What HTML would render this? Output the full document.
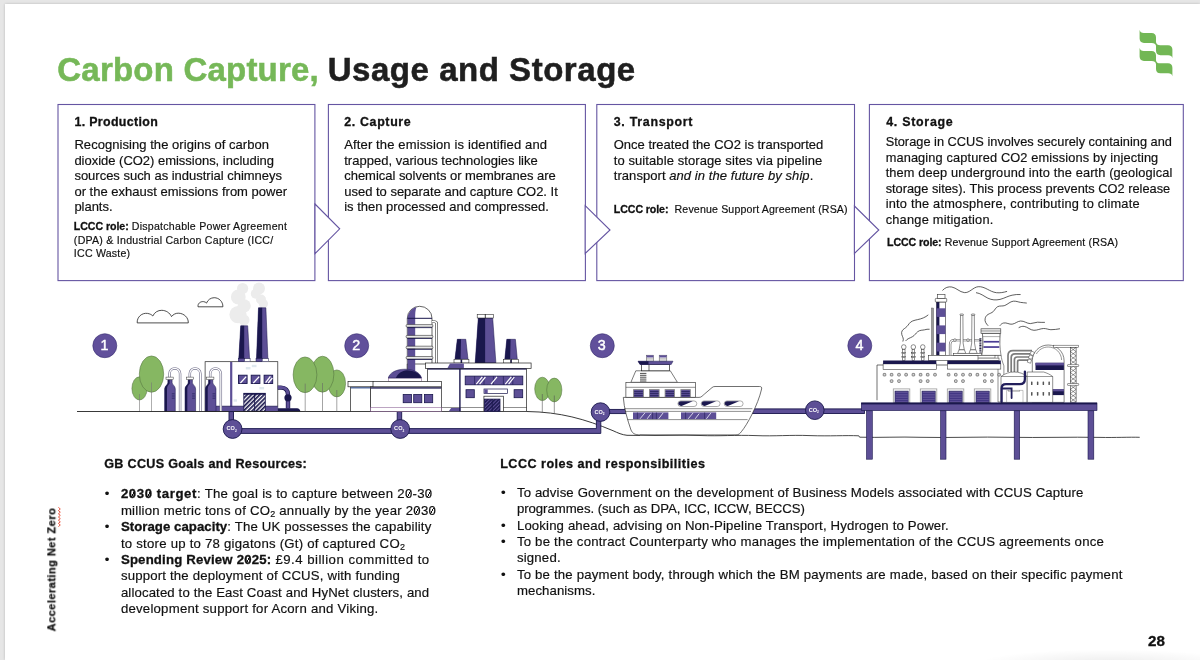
<!DOCTYPE html><html><head><meta charset="utf-8"><title>Carbon Capture, Usage and Storage</title><style>
html,body{margin:0;padding:0;overflow:hidden;}
body{width:1200px;height:660px;overflow:hidden;background:#e6e6e6;font-family:"Liberation Sans", sans-serif;color:#111;position:relative;}
.page{position:absolute;left:4.7px;top:3.6px;width:1195.3px;height:656.4px;background:#fff;box-shadow:0 0 2.5px rgba(0,0,0,.2);}
.shade{position:absolute;left:960px;top:646px;width:240px;height:14px;background:radial-gradient(ellipse 55% 100% at 62% 125%, rgba(0,0,0,.075), rgba(0,0,0,0) 100%);}
.txt{position:absolute;left:0;top:0;width:1200px;height:660px;will-change:transform;}
.t{position:absolute;white-space:nowrap;line-height:1.2;-webkit-text-stroke:0.18px #111;}
.t b{-webkit-text-stroke:0.3px #111;}
span.pb{display:inline-block;width:0;height:0;}
.z{background:linear-gradient(-62deg, transparent 44%, #111 44%, #111 56%, transparent 56%) no-repeat 50% 60% / 0.3em 0.48em;}
.t sub{font-size:.68em;vertical-align:baseline;position:relative;top:.22em;line-height:0;}
.box{position:absolute;border:1px solid #6a5fa9;box-sizing:border-box;background:#fff;}
svg{position:absolute;left:0;top:0;overflow:visible;will-change:transform;}
</style></head><body><div class="page"></div><div class="shade"></div>
<svg width="1200" height="660" viewBox="0 0 1200 660">
<g fill="#fff" stroke="#6555a2" stroke-width="1.1" stroke-linejoin="miter">
<rect x="58" y="104.5" width="256.9" height="176.1"/>
<rect x="328.4" y="104.5" width="257" height="176.1"/>
<rect x="596.8" y="104.5" width="257.7" height="176.1"/>
<rect x="869.4" y="104.5" width="313.9" height="176.1"/>
<path d="M315 204 L339.7 228.8 L315 253.6 Z"/>
<path d="M585.2 205.7 L610 230 L585.2 253.5 Z"/>
<path d="M854.4 206 L878.8 230 L854.4 253.5 Z"/>
</g>
</svg>

<svg width="1200" height="660" viewBox="0 0 1200 660">
<defs>
<pattern id="hatchN" width="3" height="3" patternUnits="userSpaceOnUse" patternTransform="rotate(-45)">
<rect width="3" height="3" fill="#fff"/><rect width="3" height="1.7" fill="#1a174d"/>
</pattern>
<pattern id="hatchP" width="2.6" height="2.6" patternUnits="userSpaceOnUse" patternTransform="rotate(-45)">
<rect width="2.6" height="2.6" fill="#5d4f96"/><rect width="2.6" height="1.5" fill="#1a174d"/>
</pattern>
</defs>
<!-- ============ SECTION 1 ============ -->
<!-- clouds -->
<g fill="#fff" stroke="#222" stroke-width="0.8" stroke-linejoin="round">
<path d="M137.2 322.9 C136.8 317 142 312.6 147.5 313.4 C150 313.8 151.8 314.8 152.8 316 C154.5 312.3 158 310.2 161.8 310.3 C166 310.4 169.8 312.8 171.5 316.6 C173.2 314.3 176 313 178.8 313.2 C184 313.5 188.5 317.5 188.3 322.9 Z"/>
<path d="M198 306.8 C197.6 303.6 200.2 301.4 203.4 301.6 C204.8 301.7 205.8 302.3 206.5 303.1 C207.8 299.8 210.8 297.7 214.2 297.7 C219 297.7 223 301.6 222.9 306.8 Z"/>
</g>
<!-- smoke -->
<g fill="#ececec">
<circle cx="242.6" cy="288.5" r="5.6"/><circle cx="238.3" cy="297" r="7.4"/><circle cx="244.2" cy="305.8" r="6.6"/><circle cx="238" cy="314.6" r="8.6"/><circle cx="244" cy="320" r="5.5"/>
<circle cx="259" cy="288.5" r="6"/><circle cx="255.8" cy="293.8" r="5"/><circle cx="261" cy="299.5" r="5"/><circle cx="263.4" cy="303.8" r="4.6"/>
</g>
<!-- trees left -->
<g stroke="#4c6b3a" stroke-width="0.5" fill="#86b762">
<ellipse cx="139.5" cy="388.4" rx="7.6" ry="11.6"/>
<ellipse cx="151.5" cy="374.1" rx="12.2" ry="18.2"/>
</g>
<g stroke="#777" stroke-width="0.6"><path d="M139.5 394 V411.5 M151.5 382.5 V411.5"/></g>
<!-- building 1 -->
<rect x="205.1" y="361.7" width="72.7" height="49.6" fill="#fff" stroke="#222" stroke-width="0.7"/>
<rect x="230.1" y="361.9" width="2.2" height="49" fill="#5d4f96"/>
<rect x="215.5" y="406.2" width="62.3" height="5.2" fill="#5d4f96"/>
<rect x="215.5" y="405.8" width="62.3" height="0.7" fill="#1a174d"/>
<!-- little bricks -->
<g fill="#dfe8ee"><rect x="245.8" y="367" width="4.7" height="2.4"/><rect x="251.8" y="364.8" width="4.7" height="2.4"/><rect x="259.4" y="387" width="4.7" height="2.4"/><rect x="233.6" y="399.3" width="3.4" height="2.4"/></g>
<!-- windows -->
<g fill="#5d4f96" stroke="#1a174d" stroke-width="0.9">
<rect x="238.5" y="375.2" width="8.6" height="8.3"/><rect x="251.2" y="375.2" width="8.7" height="8.3"/><rect x="264.1" y="375.2" width="8.6" height="8.3"/>
</g>
<g stroke="#fff" stroke-width="1.3" stroke-linecap="butt"><path d="M240.4 383 L246.2 376.6 M253.3 383 L259.2 376.6 M265.6 382.6 L270.4 376.4 M268.2 383 L272.4 378"/></g>
<!-- door -->
<rect x="243.8" y="393.3" width="21.5" height="18" fill="url(#hatchN)" stroke="#1a174d" stroke-width="0.8"/>
<rect x="243.8" y="393.1" width="21.5" height="1.6" fill="#1a174d"/>
<rect x="254.2" y="394" width="0.9" height="17.3" fill="#1a174d"/>
<!-- chimneys -->
<path d="M240.7 325.8 H247.7 L249.6 358.8 H238.8 Z" fill="#5d4f96" stroke="#1a174d" stroke-width="0.5"/>
<path d="M240.7 325.8 H244.2 L244.2 358.8 H238.8 Z" fill="#1a174d"/>
<path d="M258.5 307.8 H265.9 L267.9 358.8 H256.5 Z" fill="#5d4f96" stroke="#1a174d" stroke-width="0.5"/>
<path d="M258.5 307.8 H262.2 L262.2 358.8 H256.5 Z" fill="#1a174d"/>
<g stroke="#1a174d" stroke-width="0.5"><rect x="238.3" y="358.6" width="6.2" height="3.1" fill="#5d4f96"/><rect x="244.5" y="358.6" width="5.6" height="3.1" fill="#fff"/>
<rect x="256" y="358.6" width="6.2" height="3.1" fill="#5d4f96"/><rect x="262.2" y="358.6" width="6.2" height="3.1" fill="#fff"/></g>
<!-- right pipe of building 1 -->
<path d="M277.8 387.6 H281 C285.5 387.6 288 390.5 288 394.5 V408.5" fill="none" stroke="#1a174d" stroke-width="4.4"/>
<path d="M277.8 387.6 H281 C285.5 387.6 288 390.5 288 394.5 V408.5" fill="none" stroke="#5d4f96" stroke-width="3"/>
<circle cx="288" cy="397.8" r="3.6" fill="#1a174d"/>
<path d="M277.8 411.4 V408.2 H297 C299 408.2 300.2 409.6 300.4 411.4 Z" fill="#1a174d"/>
<!-- tanks -->
<g id="tank">
<path d="M169.5 377.4 V373.7 A5.3 5.3 0 0 1 180.1 373.7 V411.3" fill="none" stroke="#77758f" stroke-width="2.5"/>
<path d="M169.5 377.4 V373.7 A5.3 5.3 0 0 1 180.1 373.7 V411.3" fill="none" stroke="#fff" stroke-width="1.2"/>
<path d="M164.7 411.4 V389 C164.7 385.5 167.9 385 167.9 382.4 V379.6 H172.1 V382.4 C172.1 385 175.3 385.5 175.3 389 V411.4 Z" fill="#5d4f96" stroke="#1a174d" stroke-width="0.5"/>
<path d="M164.7 411.4 V389 C164.7 385.5 167.9 385 167.9 382.4 V379.6 H169.6 V383.4 C167.6 385.4 167 386.6 167 389.6 V411.4 Z" fill="#1a174d"/>
<rect x="166" y="377.1" width="7.2" height="2.5" fill="#fff" stroke="#333" stroke-width="0.5"/>
<path d="M171.8 393.8 H174.6 M171.8 396 H174.6 M171.8 398.2 H174.6" stroke="#1a174d" stroke-width="0.6"/>
</g>
<use href="#tank" x="20.3"/><use href="#tank" x="40.7"/>
<!-- ground line -->
<path d="M77 411.5 H527 C560 412 585 419 613 430.7 C618 433 622 434.8 627 435.3 L640 435.4" fill="none" stroke="#222" stroke-width="0.9"/>
<!-- trees after building 1 -->
<g stroke="#4c6b3a" stroke-width="0.5" fill="#86b762">
<ellipse cx="336.8" cy="383.4" rx="8.8" ry="13.5"/>
<ellipse cx="322.5" cy="374.2" rx="11.4" ry="18"/>
<ellipse cx="305" cy="374.8" rx="11.9" ry="17.9"/>
</g>
<g stroke="#666" stroke-width="0.6"><path d="M305.2 383.6 V411.5 M322.5 383 V411.5 M336.8 390 V411.5"/></g>
<!-- CO2 pipeline 1 -->
<g fill="#5d4f96" stroke="#1a174d" stroke-width="0.9">
<rect x="229" y="411.6" width="4.5" height="10"/>
<rect x="397.2" y="411.6" width="4.5" height="10"/>
<path d="M236 428.6 H596.4 V420 H600.8 V433.4 H236 Z"/>
<rect x="608" y="409.4" width="18.4" height="4.2"/>
<circle cx="232.6" cy="429" r="9.4"/><circle cx="400.2" cy="429" r="9.4"/><circle cx="600.5" cy="412.1" r="9.3"/>
</g>
<g fill="#fff" font-family="Liberation Sans, sans-serif" font-weight="bold" font-size="5.6" text-anchor="middle">
<text x="231.6" y="430.3">CO<tspan font-size="3.2" dy="1.4">2</tspan></text>
<text x="399.2" y="430.3">CO<tspan font-size="3.2" dy="1.4">2</tspan></text>
<text x="599.5" y="413.5">CO<tspan font-size="3.2" dy="1.4">2</tspan></text>
</g>
<!-- number circles -->
<g fill="#61509b" stroke="#352b6e" stroke-width="0.6"><circle cx="104.8" cy="345.7" r="12"/><circle cx="356.7" cy="345.7" r="12"/><circle cx="602.3" cy="345.7" r="12"/><circle cx="859.8" cy="345.7" r="12"/></g>
<g fill="#fff" stroke="#fff" stroke-width="0.45" font-family="Liberation Sans, sans-serif" font-size="14.3" text-anchor="middle">
<text x="104.4" y="350.3">1</text><text x="356.2" y="350.3">2</text><text x="601.8" y="350.3">3</text><text x="859.4" y="350.3">4</text>
</g>
</svg>

<svg width="1200" height="660" viewBox="0 0 1200 660">
<!-- ============ SECTION 2 ============ -->
<!-- silo -->
<g>
<path d="M407.3 381 V318.3 A12.35 12 0 0 1 432 318.3 V364 H407.3 Z" fill="#fff" stroke="#222" stroke-width="0.7"/>
<path d="M407.6 381 V318.3 A12.35 12 0 0 1 416.5 306.9 C415.3 310 415.1 314 415.2 318.3 V381 Z" fill="#5d4f96"/>
<rect x="407.3" y="317.8" width="24.7" height="1" fill="#1a174d"/>
<g fill="#e9e9e9" stroke="#222" stroke-width="0.55">
<rect x="406.1" y="324.6" width="26.8" height="2.5" rx="1"/><rect x="406.1" y="335.4" width="26.8" height="2.5" rx="1"/>
<rect x="406.1" y="346.2" width="26.8" height="2.5" rx="1"/><rect x="406.1" y="356.5" width="26.8" height="2.5" rx="1"/>
</g>
<g fill="#1a174d"><rect x="407.3" y="327.3" width="24.7" height="0.8"/><rect x="407.3" y="338.1" width="24.7" height="0.8"/><rect x="407.3" y="348.9" width="24.7" height="0.8"/><rect x="407.3" y="359.2" width="24.7" height="0.8"/></g>
<path d="M432 321.8 H434.6 C436 321.8 436.7 322.6 436.7 324 V363" fill="none" stroke="#333" stroke-width="2.6"/>
<path d="M432 321.8 H434.6 C436 321.8 436.7 322.6 436.7 324 V363" fill="none" stroke="#fff" stroke-width="1.4"/>
</g>
<!-- main right building -->
<rect x="427.5" y="368.4" width="99.1" height="43" fill="#fff" stroke="#222" stroke-width="0.7"/>
<rect x="427.8" y="407.7" width="98.6" height="3.6" fill="#fff" stroke="#222" stroke-width="0.5"/>
<path d="M451.2 407.9 H460.4 V411.2 H448.8 Z" fill="#5d4f96"/>
<rect x="459.2" y="368.4" width="1.4" height="43" fill="#1a174d"/>
<!-- chimneys on building 2 -->
<g stroke="#1a174d" stroke-width="0.5">
<path d="M457.3 339.3 H465.8 L468 359.3 H455 Z" fill="#5d4f96"/>
<path d="M506.8 339.3 H515.4 L517.3 359.3 H504.8 Z" fill="#5d4f96"/>
<path d="M478.3 318 H492.7 L495.9 362.9 H475.2 Z" fill="#5d4f96"/>
</g>
<path d="M457.3 339.3 H461 L460.6 359.3 H455 Z" fill="#1a174d"/>
<path d="M506.8 339.3 H510.6 L510.2 359.3 H504.8 Z" fill="#1a174d"/>
<path d="M478.3 318 H485.1 L485.1 362.9 H475.2 Z" fill="#1a174d"/>
<g fill="#fff" stroke="#222" stroke-width="0.55">
<rect x="454" y="359.3" width="7" height="3.8"/><rect x="461.9" y="359.3" width="7" height="3.8"/>
<rect x="503.4" y="359.3" width="7.2" height="3.8"/><rect x="511.5" y="359.3" width="7.2" height="3.8"/>
<rect x="477.2" y="314.3" width="7.9" height="3.7"/><rect x="485.7" y="314.3" width="7.9" height="3.7"/>
</g>
<rect x="460.8" y="359.6" width="1.2" height="3.4" fill="#1a174d"/><rect x="510.5" y="359.6" width="1.2" height="3.4" fill="#1a174d"/>
<!-- roof slab -->
<rect x="425.5" y="363" width="105.6" height="5.5" fill="#fff" stroke="#222" stroke-width="0.7"/>
<path d="M450 363.4 H463.9 V368.1 H447.5 Z" fill="#5d4f96"/>
<rect x="427.8" y="368.5" width="98.6" height="1.1" fill="#1a174d"/>
<!-- long window -->
<rect x="465.2" y="376.1" width="57.6" height="8.7" fill="#5d4f96" stroke="#1a174d" stroke-width="0.8"/>
<g stroke="#1a174d" stroke-width="0.6"><path d="M474.6 376.1 V384.8 M484 376.1 V384.8 M493.4 376.1 V384.8 M503.4 376.1 V384.8 M512.8 376.1 V384.8"/></g>
<g stroke="#fff" stroke-width="1.2"><path d="M476.3 384.2 L482.3 376.8 M479.6 384.2 L485.4 377 M491 384.2 L497 376.8 M505.3 384.2 L511.3 376.8 M508.6 384.2 L514.3 377"/></g>
<!-- small windows + sign -->
<g fill="#5d4f96" stroke="#1a174d" stroke-width="0.8"><rect x="466" y="389.7" width="8.3" height="8"/><rect x="514.1" y="389.7" width="8.6" height="8"/></g>
<rect x="484" y="389" width="23.5" height="4.4" fill="#fff" stroke="#1a174d" stroke-width="0.7"/>
<rect x="484.3" y="389.3" width="3.4" height="3.8" fill="#5d4f96"/>
<rect x="483.9" y="396.2" width="19.5" height="15.2" fill="#fff" stroke="#222" stroke-width="0.7"/>
<rect x="484.4" y="399.1" width="15.6" height="12.2" fill="url(#hatchP)" stroke="#1a174d" stroke-width="0.8"/>
<rect x="491.8" y="399.1" width="0.8" height="12.2" fill="#1a174d"/>
<!-- left annex -->
<rect x="350.5" y="386.8" width="20" height="24.6" fill="#fff" stroke="#222" stroke-width="0.7"/>
<rect x="348" y="381.4" width="25.5" height="5.4" fill="#fff" stroke="#222" stroke-width="0.7"/>
<rect x="350.8" y="387.3" width="19.6" height="1.1" fill="#2c4a8a"/>
<!-- middle section -->
<rect x="370.5" y="386.8" width="71" height="24.6" fill="#fff" stroke="#222" stroke-width="0.7"/>
<rect x="370.6" y="407.6" width="70.8" height="3.7" fill="#fff" stroke="#7a4b86" stroke-width="0.5"/>
<!-- dome -->
<rect x="388.3" y="378" width="33.2" height="3.6" fill="#fff" stroke="#7a4b86" stroke-width="0.5"/>
<path d="M388.3 378 C389.5 372.6 396.5 369.2 405 369.2 C413.5 369.2 420.3 372.6 421.5 378 Z" fill="#5d4f96" stroke="#1a174d" stroke-width="0.5"/>
<path d="M395.8 378 C397.5 373.4 402 370.6 407 370.2 C414 370.4 420.3 373.4 421.3 378 Z" fill="#1a174d"/>
<rect x="373" y="381.4" width="68.5" height="5.4" fill="#fff" stroke="#222" stroke-width="0.7"/>
<rect x="370.8" y="387.3" width="70.4" height="1.3" fill="#1a174d"/>
<g fill="#5d4f96" stroke="#1a174d" stroke-width="0.8">
<rect x="403.2" y="394.5" width="8.2" height="8.2"/><rect x="413.7" y="394.5" width="8.1" height="8.2"/><rect x="424.4" y="394.5" width="8.3" height="8.2"/>
</g>
<!-- trees right of building 2 -->
<g stroke="#4c6b3a" stroke-width="0.5" fill="#86b762">
<ellipse cx="542.3" cy="388.9" rx="7.6" ry="11.7"/>
<ellipse cx="554.3" cy="390" rx="7.6" ry="11.9"/>
</g>
<g stroke="#555" stroke-width="0.6"><path d="M542.3 394 V412.6 M554.3 395.5 V413.8"/></g>
</svg>

<svg width="1200" height="660" viewBox="0 0 1200 660">
<!-- ============ SECTION 3: ship ============ -->
<!-- pipe from ship to platform -->
<g fill="#5d4f96" stroke="#1a174d" stroke-width="0.9">
<rect x="748" y="408.9" width="116.4" height="4.6"/>
<circle cx="814.8" cy="410.2" r="9.3"/>
</g>
<text x="813.8" y="411.6" fill="#fff" font-family="Liberation Sans, sans-serif" font-weight="bold" font-size="5.6" text-anchor="middle">CO<tspan font-size="3.2" dy="1.4">2</tspan></text>
<!-- funnels -->
<g stroke="#444" stroke-width="0.5" fill="#fff"><rect x="646.4" y="355.2" width="7.2" height="6"/><rect x="659.2" y="355.2" width="7.6" height="6"/></g>
<g fill="#5d4f96"><rect x="646.6" y="355.3" width="6.8" height="2.2"/><rect x="659.4" y="355.3" width="7.2" height="2.2"/></g>
<g stroke="#666" stroke-width="0.4"><path d="M646.6 358.6 H653.4 M646.6 359.9 H653.4 M659.4 358.6 H666.6 M659.4 359.9 H666.6"/></g>
<!-- bridge -->
<path d="M635.8 370.8 H670.3 L677.4 382.3 H630.9 Z" fill="#fff" stroke="#222" stroke-width="0.6"/>
<rect x="641.5" y="364.4" width="28" height="6.4" fill="#fff" stroke="#222" stroke-width="0.7"/>
<path d="M649 364.4 V370.8" stroke="#222" stroke-width="0.7"/>
<path d="M638 361.2 H673 L671.2 364.5 H640 Z" fill="#5d4f96" stroke="#1a174d" stroke-width="0.5"/>
<path d="M638 361.2 H648.5 V364.5 H640 Z" fill="#1a174d"/>
<g stroke="#222" stroke-width="0.8"><path d="M640 373.4 H646.4 M640 375.3 H646.4 M640 377.2 H646.4 M640 379.1 H646.4 M640 381 H646.4"/></g>
<!-- cabin -->
<rect x="625.9" y="382.3" width="69.4" height="15.2" fill="#fff" stroke="#222" stroke-width="0.6"/>
<path d="M625.9 387.3 H695.3" stroke="#222" stroke-width="0.5"/>
<g fill="#5d4f96" stroke="#888" stroke-width="0.9">
<rect x="633.6" y="389.6" width="9.8" height="8"/><rect x="649.5" y="389.6" width="9.6" height="8"/><rect x="665.1" y="389.6" width="9.4" height="8"/><rect x="680.9" y="389.6" width="9.4" height="8"/>
</g>
<g stroke="#1a174d" stroke-width="0.7"><path d="M634.2 391.6 H642.8 M634.2 393.6 H642.8 M634.2 395.6 H642.8 M650 391.6 H658.6 M650 393.6 H658.6 M650 395.6 H658.6 M665.6 391.6 H674 M665.6 393.6 H674 M665.6 395.6 H674 M681.4 391.6 H689.8 M681.4 393.6 H689.8 M681.4 395.6 H689.8"/></g>
<!-- hull -->
<path d="M623.3 397.4 H699 C701.5 397.4 702.5 395.6 704.5 394 L712 387.6 C713 386.8 713.6 386.5 715 386.5 H759.5 C761.3 386.5 762 387.4 761.6 389 C758 405 747 425 741.5 431.5 C740 433.5 738.8 434.9 736 434.9 H640 C635 434.9 632.5 433.5 631 430 C627.5 420 624 408 623.3 397.4 Z" fill="#fff" stroke="#222" stroke-width="0.65"/>
<path d="M624.3 408.7 H752.4 M625 411.4 H751 M627.5 419.6 H747.6" stroke="#222" stroke-width="0.5" fill="none"/>
<!-- lower windows -->
<g fill="#5d4f96"><rect x="633" y="412.4" width="35.4" height="6.7"/><rect x="681" y="412.4" width="35.2" height="6.7"/></g>
<g stroke="#1a174d" stroke-width="0.5"><path d="M637.4 412.4 V419.1 M652.6 412.4 V419.1 M656.4 412.4 V419.1 M685.6 412.4 V419.1 M704.6 412.4 V419.1"/></g>
<g stroke="#d9d6ea" stroke-width="1"><path d="M640 418.8 L645 412.8 M647.2 418.8 L651 413.6 M658.6 418.8 L663.2 412.8 M688.2 418.8 L693.2 412.8 M695.2 418.8 L699.2 413.6 M706.4 418.8 L711 412.8"/></g>
<!-- portholes -->
<g id="port">
<rect x="677.9" y="400.9" width="18.9" height="5.6" rx="2.8" fill="#fff" stroke="#777" stroke-width="0.6"/>
<path d="M680.7 401.3 H692.8 L681.5 406 C679.6 405.6 678.3 404.6 678.3 403.7 C678.3 402.5 679.4 401.5 680.7 401.3 Z" fill="#1a174d"/>
</g>
<use href="#port" x="23.3"/><use href="#port" x="46.3"/>
<!-- sea line -->
<path d="M640 435.2 C660 436 680 434.6 700 435.5 C720 436.3 735 434.8 756 435.6 C775 436.4 790 434.8 810 435.6 C830 436.3 845 435.2 858.8 435.8 L859.6 437.2 C880 437.8 900 436.6 920 437.3 C950 438 980 436.6 1010 437.3 C1040 437.9 1070 436.8 1100 437.4 C1115 437.7 1130 437 1139.7 437.3" fill="none" stroke="#2a2a2a" stroke-width="0.85"/>
</svg>

<svg width="1200" height="660" viewBox="0 0 1200 660">
<!-- ============ SECTION 4: storage ============ -->
<!-- smoke lines -->
<g fill="none" stroke="#2a2a2a" stroke-width="0.75" stroke-linecap="round">
<path d="M903 341.2 C904.2 338.6 902.4 337 901.8 334.6 C901 331.4 902.6 329.8 904.4 328.6 C906.4 327.2 907.6 326 909.2 323.6 C911 321 914 320.4 917.7 319.6 C921.5 318.8 925.4 317.4 928 315.1"/>
<path d="M905.8 340.7 C907.4 338.4 910 338.2 912.6 336.6 C915 335.2 915.6 333.4 917.6 331.8 C920 329.8 922.4 330.4 924.6 329.8 C926.4 329.4 927.6 329 929.2 329.2"/>
<path d="M942.7 290.2 C945 287.5 948.5 286.4 951.8 287 C956.5 287.9 959.5 292 964.3 292.6 C969.5 293.2 973 287.2 978.2 286.7 C985 286.2 989.5 291.8 996.4 292.7 C1000 293.1 1003.5 292.4 1006.7 291.5"/>
<path d="M976.4 292.7 C980.5 293.2 984 296.2 987.9 298.2 C991.8 300.1 996 300.3 1000 299.4 C1004.5 298.3 1008 296 1012.1 295.2 C1015 294.6 1017.6 294.3 1020.2 294.5"/>
<path d="M987.9 325.5 C986 323.5 984.6 321.4 985.1 318.8 C985.5 316.5 986.6 315.4 987.9 314.5 C989.7 313.4 991.8 313 993.3 311.5 C995 309.8 995.6 307.8 997.6 306.7 C999.8 305.5 1002.6 306.4 1004.8 305.5 C1008 304.2 1010 301.6 1013.3 301.2 C1016 300.9 1018.2 302 1020.6 302.4 C1022.6 302.8 1024.6 302.7 1026.4 303"/>
<path d="M1000 325.5 C1001 324.2 1002 323.4 1003.6 323 C1006.6 322.3 1009.2 324.6 1012.1 324.2 C1015.2 323.8 1017.4 321.2 1020.6 321 C1024.2 320.8 1026.8 323.6 1030.3 323.6 C1033 323.6 1035 322.2 1037.6 322.2 C1040 322.2 1042.2 322.6 1044.5 322.4"/>
<path d="M1019 327.5 C1020.6 326.6 1022.4 326.1 1024.2 326.4 C1027.8 327 1030.2 330.2 1033.9 330.3 C1037.4 330.4 1040.2 328.6 1043.6 328.5 C1046.2 328.4 1048.4 329.6 1050.9 329.7 C1054 329.8 1056.8 329.2 1059.6 328.8"/>
</g>
<!-- main building wall -->
<path d="M877 400.2 V365 H1001" fill="none" stroke="#333" stroke-width="0.7"/>
<!-- thin pole -->
<rect x="931.4" y="308" width="2.2" height="47.3" fill="#9a9a9a" stroke="#555" stroke-width="0.4"/>
<!-- striped chimney -->
<rect x="936.3" y="302" width="9.3" height="53.3" fill="#fff" stroke="#333" stroke-width="0.6"/>
<rect x="936.5" y="302" width="2.9" height="53.3" fill="#1a174d"/>
<g fill="#5d4f96"><rect x="936.5" y="308.3" width="9" height="8.6"/><rect x="936.5" y="325.4" width="9" height="8.7"/><rect x="936.5" y="342.7" width="9" height="8.8"/></g>
<rect x="935.3" y="298.4" width="11.4" height="3.6" rx="0.8" fill="#fff" stroke="#333" stroke-width="0.6"/>
<rect x="937.3" y="294.3" width="7.7" height="4.1" fill="#fff" stroke="#333" stroke-width="0.6"/>
<!-- small stacks with balls -->
<g id="stk" fill="#fff" stroke="#333" stroke-width="0.55">
<rect x="902.5" y="349.2" width="2.5" height="11.4"/>
<rect x="901.9" y="352.4" width="3.7" height="1.3"/><rect x="901.9" y="356.4" width="3.7" height="1.3"/>
<circle cx="903.75" cy="347" r="2.3"/>
</g>
<use href="#stk" x="9.6"/><use href="#stk" x="19"/>
<!-- upper white block -->
<rect x="928.5" y="355.3" width="70" height="5.4" fill="#fff" stroke="#333" stroke-width="0.6"/>
<!-- elbow pipe and two thin stacks -->
<path d="M950.1 355.3 V344.5 C950.1 341.6 951.6 340.1 954.5 340.1 H981" fill="none" stroke="#555" stroke-width="2.4"/>
<path d="M950.1 355.3 V344.5 C950.1 341.6 951.6 340.1 954.5 340.1 H981" fill="none" stroke="#fff" stroke-width="1.2"/>
<g fill="#fff" stroke="#333" stroke-width="0.55">
<path d="M960.5 315 H962.9 L963.1 343 L964.3 349.8 H959.1 L960.3 343 Z"/><rect x="960" y="314" width="3.4" height="1.4" rx="0.6"/>
<path d="M971.9 315 H974.3 L974.5 343 L975.7 349.8 H970.5 L971.7 343 Z"/><rect x="971.4" y="314" width="3.4" height="1.4" rx="0.6"/>
<path d="M957.6 353.4 L959 349.8 H964.4 L965.8 353.4 Z"/><path d="M969 353.4 L970.4 349.8 H975.8 L977.2 353.4 Z"/>
<rect x="953.5" y="353.4" width="32" height="1.9"/>
<circle cx="954.9" cy="340.1" r="1.3"/><circle cx="968" cy="340.1" r="1.3"/>
</g>
<!-- cooling tower -->
<path d="M982.4 333.3 C983.2 340 983 348 981.6 355.4 H1001.2 C1001.2 358 1002.4 362 1003.9 365.8 V402 H998 V355.4 C999.8 348 999.6 340 1000 333.3 Z" fill="#fff" stroke="#333" stroke-width="0.55"/>
<path d="M982.4 333.3 C983.4 341 983.2 349 981.8 355.4 H1001 C999.8 348 999.6 340 1000 333.3 Z" fill="#fff" stroke="#333" stroke-width="0.55"/>
<rect x="981" y="328.8" width="19.8" height="4.5" fill="#fff" stroke="#333" stroke-width="0.6"/>
<path d="M981 330.3 H1000.8 M981 331.8 H1000.8 M983 336.6 H999.8" stroke="#333" stroke-width="0.4"/>
<g fill="#4a3c93"><rect x="983.6" y="340.9" width="15.6" height="1.7"/><rect x="983.4" y="346.2" width="15.9" height="1.7"/></g>
<path d="M980.4 338.2 V353" stroke="#26233f" stroke-width="2.1" stroke-dasharray="1.1 0.55"/>
<!-- steps under cooling tower -->
<g fill="#fff" stroke="#333" stroke-width="0.5"><rect x="978" y="355.4" width="17" height="2.7"/><rect x="978" y="358.1" width="21" height="2.6"/></g>
<!-- roof slabs -->
<g stroke="#333" stroke-width="0.55" fill="#fff"><rect x="883.1" y="363.9" width="53.2" height="5.6"/><rect x="947.3" y="363.9" width="53.5" height="5.2"/></g>
<g fill="#1a174d"><rect x="883.1" y="360.5" width="53.2" height="3.5"/><rect x="947.3" y="360.5" width="53.5" height="3.5"/></g>
<!-- small windows rows -->
<g fill="#d8d8d8" stroke="#444" stroke-width="0.6">
<rect x="883.2" y="373.4" width="2.6" height="2.6" rx="0.6"/><rect x="890.3" y="373.4" width="2.6" height="2.6" rx="0.6"/><rect x="897.7" y="373.4" width="2.6" height="2.6" rx="0.6"/><rect x="904.8" y="373.4" width="2.6" height="2.6" rx="0.6"/><rect x="912.1" y="373.4" width="2.6" height="2.6" rx="0.6"/><rect x="919.3" y="373.4" width="2.6" height="2.6" rx="0.6"/><rect x="926.4" y="373.4" width="2.6" height="2.6" rx="0.6"/><rect x="933.7" y="373.4" width="2.6" height="2.6" rx="0.6"/>
<rect x="947.3" y="373.4" width="2.6" height="2.6" rx="0.6"/><rect x="954.5" y="373.4" width="2.6" height="2.6" rx="0.6"/><rect x="961.7" y="373.4" width="2.6" height="2.6" rx="0.6"/><rect x="968.9" y="373.4" width="2.6" height="2.6" rx="0.6"/><rect x="976.1" y="373.4" width="2.6" height="2.6" rx="0.6"/><rect x="983.5" y="373.4" width="2.6" height="2.6" rx="0.6"/><rect x="990.6" y="373.4" width="2.6" height="2.6" rx="0.6"/><rect x="997.8" y="373.4" width="2.6" height="2.6" rx="0.6"/>
<rect x="890.3" y="379.8" width="2.6" height="2.6" rx="0.6"/><rect x="897.7" y="379.8" width="2.6" height="2.6" rx="0.6"/><rect x="919.3" y="379.8" width="2.6" height="2.6" rx="0.6"/><rect x="926.4" y="379.8" width="2.6" height="2.6" rx="0.6"/><rect x="954.5" y="379.8" width="2.6" height="2.6" rx="0.6"/><rect x="961.7" y="379.8" width="2.6" height="2.6" rx="0.6"/><rect x="983.5" y="379.8" width="2.6" height="2.6" rx="0.6"/><rect x="990.6" y="379.8" width="2.6" height="2.6" rx="0.6"/>
</g>
<!-- garage doors -->
<g id="gar">
<rect x="893.3" y="388.9" width="16.5" height="13.6" fill="#fff" stroke="#999" stroke-width="0.8"/>
<rect x="895" y="391.1" width="13.2" height="11.4" fill="#5d4f96" stroke="#1a174d" stroke-width="0.6"/>
<path d="M895.4 393.6 H907.8 M895.4 396 H907.8 M895.4 398.4 H907.8 M895.4 400.6 H907.8" stroke="#33297a" stroke-width="0.7"/>
</g>
<use href="#gar" x="27"/><use href="#gar" x="54"/><use href="#gar" x="81"/>
<!-- dome building -->
<path d="M1032.3 402.4 V360.8 C1032.3 352 1039.4 345 1048.2 345 C1057 345 1064.1 352 1064.1 360.8 V402.4 Z" fill="#fff" stroke="#333" stroke-width="0.6"/>
<path d="M1036.4 354 C1038.6 349.8 1043 347 1048.2 347 C1055.6 347 1061.4 352.8 1061.6 360" fill="none" stroke="#333" stroke-width="0.5"/>
<rect x="1035.5" y="362.8" width="28.4" height="7.2" fill="#1a174d"/><rect x="1035.5" y="362.8" width="28.4" height="2.6" fill="#5d4f96"/>
<rect x="1052.2" y="389.3" width="11.7" height="5.8" fill="#1a174d"/><rect x="1052.2" y="389.3" width="11.7" height="2" fill="#5d4f96"/>
<!-- top bar + lattice tower -->
<rect x="1053.3" y="345.2" width="25.3" height="2.1" fill="#fff" stroke="#333" stroke-width="0.5"/>
<rect x="1070.3" y="347.4" width="5.8" height="54.8" fill="#fff" stroke="#333" stroke-width="0.6"/>
<g fill="none" stroke="#333" stroke-width="0.5">
<path d="M1070.3 347.4 l5.8 4.2 l-5.8 4.2 l5.8 4.2 l-5.8 4.2 l5.8 4.2 l-5.8 4.2 l5.8 4.2 l-5.8 4.2 l5.8 4.2 l-5.8 4.2 l5.8 4.2 l-5.8 4.2 l5.8 4.2"/>
<path d="M1076.1 347.4 l-5.8 4.2 l5.8 4.2 l-5.8 4.2 l5.8 4.2 l-5.8 4.2 l5.8 4.2 l-5.8 4.2 l5.8 4.2 l-5.8 4.2 l5.8 4.2 l-5.8 4.2 l5.8 4.2 l-5.8 4.2"/>
</g>
<g fill="#fff" stroke="#333" stroke-width="0.5"><rect x="1067.5" y="364.6" width="11.2" height="1.9" rx="0.5"/><rect x="1067.5" y="383.5" width="11.2" height="1.9" rx="0.5"/></g>
<!-- grey multi pipes -->
<g fill="none" stroke="#7c7c7c" stroke-width="1.7">
<path d="M1008 372 V355.5 C1008 352.4 1010 350.6 1013 350.6 H1032"/>
<path d="M1011.2 372 V357.6 C1011.2 355 1012.8 353.8 1015 353.8 H1030.5"/>
<path d="M1014.4 372 V359.8 C1014.4 357.8 1015.6 357 1017.2 357 H1029.5"/>
<path d="M1017.6 372 V361.8 C1017.6 360.6 1018.4 360.2 1019.4 360.2 H1028.5"/>
</g>
<!-- ladder blocks on dome -->
<g fill="#fff" stroke="#444" stroke-width="0.5">
<rect x="1027.8" y="359.4" width="3.4" height="3.4" transform="rotate(18 1029.5 361)"/><rect x="1029" y="355.4" width="3.4" height="3.4" transform="rotate(22 1030.7 357)"/><rect x="1030.6" y="351.6" width="3.4" height="3.4" transform="rotate(28 1032.3 353.2)"/>
</g>
<!-- annex tank + block -->
<path d="M1001 402.4 V376.5 C1005 373.4 1009.5 372 1014 372 C1019 372 1023.5 373.4 1027.2 376.5 V402.4 Z" fill="#fff" stroke="#333" stroke-width="0.55"/>
<path d="M1001 376.5 H1027.2" stroke="#333" stroke-width="0.5"/>
<path d="M1027.2 402.4 V372 H1043.6 C1047 373 1050 374.4 1052.7 376.5 V402.4 Z" fill="#fff" stroke="#333" stroke-width="0.55"/>
<path d="M1027.2 376.5 H1052.7" stroke="#333" stroke-width="0.5"/>
<path d="M1006.6 402.4 V390.4 H1023 V402.4" fill="none" stroke="#888" stroke-width="0.5"/>
<rect x="1008.4" y="390.3" width="11.4" height="1.5" fill="#fff" stroke="#777" stroke-width="0.4"/>
<g fill="#555"><rect x="1031" y="381.4" width="1.5" height="3.7" rx="0.6"/><rect x="1036.9" y="381.4" width="1.5" height="3.7" rx="0.6"/><rect x="1042.6" y="381.4" width="1.5" height="3.7" rx="0.6"/><rect x="1048.4" y="381.4" width="1.5" height="3.7" rx="0.6"/>
<rect x="1031" y="392" width="1.5" height="3.7" rx="0.6"/><rect x="1036.9" y="392" width="1.5" height="3.7" rx="0.6"/><rect x="1042.6" y="392" width="1.5" height="3.7" rx="0.6"/><rect x="1048.4" y="392" width="1.5" height="3.7" rx="0.6"/></g>
<!-- navy pipes -->
<g fill="none" stroke="#231f5c" stroke-width="2.3" stroke-linecap="round">
<path d="M1024.9 371.6 V379 C1024.9 382.4 1023 384.2 1019.8 384.2 H1006 C1003 384.2 1001.6 385.8 1001.6 388.4 V402"/>
<path d="M1001.8 388.5 H1011.6 V398" stroke-width="1.8"/>
</g>
<!-- platform -->
<rect x="861.3" y="403" width="235.7" height="7.6" fill="#5d4f96" stroke="#1a174d" stroke-width="0.6"/>
<rect x="861.3" y="402.6" width="235.7" height="1.8" fill="#1a174d"/>
<g fill="#5d4f96" stroke="#1a174d" stroke-width="0.6">
<rect x="866.5" y="410.8" width="5.8" height="48.4"/><rect x="940.6" y="410.8" width="5.4" height="48.4"/><rect x="1014.2" y="410.8" width="5.5" height="48.4"/><rect x="1088" y="410.8" width="5.8" height="48.4"/>
</g>
</svg>

<svg width="1200" height="660" viewBox="0 0 1200 660">
<!-- logo -->
<defs>
<path id="leaf" d="M0 -2.9 C0.5 -0.9 1.8 0 4.2 0 H12 C14.8 0 16.4 1.6 16.4 4.4 V12.9 C15.9 10.9 14.6 10 12.2 10 H4.4 C1.6 10 0 8.4 0 5.6 Z"/>
</defs>
<g fill="#72b755">
<use href="#leaf" x="1139.6" y="32.9"/>
<use href="#leaf" x="1156" y="45.2"/>
<use href="#leaf" x="1139.6" y="51"/>
<use href="#leaf" x="1156" y="63.3"/>
</g>
<!-- red squiggle next to vertical text -->
<path d="M58.4 526.6 l1.9 -1.6 l-1.9 -1.6 l1.9 -1.6 l-1.9 -1.6 l1.9 -1.6 l-1.9 -1.6 l1.9 -1.6 l-1.9 -1.6 l1.9 -1.6 l-1.9 -1.6 l1.9 -1.6 l-1.9 -1.6" fill="none" stroke="#e8452c" stroke-width="0.9" stroke-linejoin="round"/>
</svg>

<div class="txt">
<div class="t" style="left:57.32px;top:50.00px;font-size:33px;font-weight:bold;-webkit-text-stroke:0.55px #76b858;letter-spacing:0.209px;"><span style="color:#76b858">Carbon Capture,</span></div>
<div class="t" style="left:327.72px;top:50.00px;font-size:33px;font-weight:bold;color:#1f1f1f;-webkit-text-stroke:0.55px #1f1f1f;letter-spacing:0.534px;">Usage and Storage</div>
<div class="t" style="left:74.46px;top:115.00px;font-size:12.4px;letter-spacing:0.343px;"><b>1. Production</b></div>
<div class="t" style="left:74.42px;top:137.00px;font-size:13px;letter-spacing:0.052px;">Recognising the origins of carbon</div>
<div class="t" style="left:74.42px;top:153.00px;font-size:13px;letter-spacing:-0.017px;">dioxide (CO2) emissions, including</div>
<div class="t" style="left:74.42px;top:168.00px;font-size:13px;letter-spacing:-0.014px;">sources such as industrial chimneys</div>
<div class="t" style="left:74.42px;top:184.00px;font-size:13px;letter-spacing:0.005px;">or the exhaust emissions from power</div>
<div class="t" style="left:74.42px;top:199.00px;font-size:13px;letter-spacing:-0.034px;">plants.</div>
<div class="t" style="left:73.86px;top:220.00px;font-size:10.6px;letter-spacing:0.247px;"><b style="letter-spacing:-0.058px">LCCC role:</b> Dispatchable Power Agreement</div>
<div class="t" style="left:73.86px;top:234.00px;font-size:10.6px;letter-spacing:0.245px;">(DPA) &amp; Industrial Carbon Capture (ICC/</div>
<div class="t" style="left:73.86px;top:247.00px;font-size:10.6px;letter-spacing:0.213px;">ICC Waste)</div>
<div class="t" style="left:344.26px;top:115.00px;font-size:12.4px;letter-spacing:0.655px;"><b>2. Capture</b></div>
<div class="t" style="left:344.22px;top:137.00px;font-size:13px;letter-spacing:0.137px;">After the emission is identified and</div>
<div class="t" style="left:344.22px;top:153.00px;font-size:13px;letter-spacing:0.018px;">trapped, various technologies like</div>
<div class="t" style="left:344.22px;top:168.00px;font-size:13px;letter-spacing:-0.026px;">chemical solvents or membranes are</div>
<div class="t" style="left:344.22px;top:184.00px;font-size:13px;letter-spacing:-0.010px;">used to separate and capture CO2. It</div>
<div class="t" style="left:344.22px;top:199.00px;font-size:13px;letter-spacing:-0.021px;">is then processed and compressed.</div>
<div class="t" style="left:613.76px;top:115.00px;font-size:12.4px;letter-spacing:0.711px;"><b>3. Transport</b></div>
<div class="t" style="left:613.72px;top:137.00px;font-size:13px;letter-spacing:-0.000px;">Once treated the CO2 is transported</div>
<div class="t" style="left:613.72px;top:153.00px;font-size:13px;letter-spacing:0.090px;">to suitable storage sites via pipeline</div>
<div class="t" style="left:613.72px;top:168.00px;font-size:13px;letter-spacing:0.064px;">transport <i>and in the future by ship</i>.</div>
<div class="t" style="left:613.86px;top:203.00px;font-size:10.6px;letter-spacing:0.155px;"><b style="letter-spacing:-0.083px">LCCC role:</b>&nbsp; Revenue Support Agreement (RSA)</div>
<div class="t" style="left:886.26px;top:115.00px;font-size:12.4px;letter-spacing:0.730px;"><b>4. Storage</b></div>
<div class="t" style="left:885.63px;top:134.00px;font-size:12.8px;letter-spacing:0.008px;">Storage in CCUS involves securely containing and</div>
<div class="t" style="left:885.63px;top:150.00px;font-size:12.8px;letter-spacing:0.120px;">managing captured CO2 emissions by injecting</div>
<div class="t" style="left:885.63px;top:165.00px;font-size:12.8px;letter-spacing:0.139px;">them deep underground into the earth (geological</div>
<div class="t" style="left:885.63px;top:181.00px;font-size:12.8px;letter-spacing:0.006px;">storage sites). This process prevents CO2 release</div>
<div class="t" style="left:885.63px;top:196.00px;font-size:12.8px;letter-spacing:0.215px;">into the atmosphere, contributing to climate</div>
<div class="t" style="left:885.63px;top:212.00px;font-size:12.8px;letter-spacing:0.227px;">change mitigation.</div>
<div class="t" style="left:887.06px;top:236.00px;font-size:10.6px;letter-spacing:0.162px;"><b style="letter-spacing:-0.083px">LCCC role:</b> Revenue Support Agreement (RSA)</div>
<div class="t" style="left:104.24px;top:457.00px;font-size:12.6px;letter-spacing:0.294px;"><b>GB CCUS Goals and Resources:</b></div>
<div class="t" style="left:120.91px;top:486.00px;font-size:13.2px;letter-spacing:0.279px;"><b style="letter-spacing:0.583px">2<span class="z">0</span>3<span class="z">0</span> target</b>: The goal is to capture between 2<span class="z">0</span>-3<span class="z">0</span></div>
<div class="t" style="left:120.91px;top:503.00px;font-size:13.2px;letter-spacing:0.226px;">million metric tons of CO<sub>2</sub> annually by the year 2<span class="z">0</span>3<span class="z">0</span></div>
<div class="t" style="left:120.91px;top:519.00px;font-size:13.2px;letter-spacing:0.177px;"><b style="letter-spacing:0.047px">Storage capacity</b>: The UK possesses the capability</div>
<div class="t" style="left:120.91px;top:536.00px;font-size:13.2px;letter-spacing:0.232px;">to store up to 78 gigatons (Gt) of captured CO<sub>2</sub></div>
<div class="t" style="left:120.91px;top:552.00px;font-size:13.2px;letter-spacing:0.480px;"><b style="letter-spacing:0.181px">Spending Review 2<span class="z">0</span>25:</b> £9.4 billion committed to</div>
<div class="t" style="left:120.91px;top:568.00px;font-size:13.2px;letter-spacing:0.178px;">support the deployment of CCUS, with funding</div>
<div class="t" style="left:120.91px;top:585.00px;font-size:13.2px;letter-spacing:0.125px;">allocated to the East Coast and HyNet clusters, and</div>
<div class="t" style="left:120.91px;top:601.00px;font-size:13.2px;letter-spacing:0.225px;">development support for Acorn and Viking.</div>
<div class="t" style="left:104.80px;top:486.00px;font-size:13.2px;">•</div>
<div class="t" style="left:104.80px;top:519.00px;font-size:13.2px;">•</div>
<div class="t" style="left:104.80px;top:552.00px;font-size:13.2px;">•</div>
<div class="t" style="left:500.14px;top:457.00px;font-size:12.6px;letter-spacing:0.482px;"><b>LCCC roles and responsibilities</b></div>
<div class="t" style="left:516.91px;top:485.00px;font-size:13.2px;letter-spacing:0.135px;">To advise Government on the development of Business Models associated with CCUS Capture</div>
<div class="t" style="left:516.91px;top:501.00px;font-size:13.2px;letter-spacing:-0.049px;">programmes. (such as DPA, ICC, ICCW, BECCS)</div>
<div class="t" style="left:516.91px;top:518.00px;font-size:13.2px;letter-spacing:0.141px;">Looking ahead, advising on Non-Pipeline Transport, Hydrogen to Power.</div>
<div class="t" style="left:516.91px;top:534.00px;font-size:13.2px;letter-spacing:0.203px;">To be the contract Counterparty who manages the implementation of the CCUS agreements once</div>
<div class="t" style="left:516.91px;top:550.00px;font-size:13.2px;letter-spacing:0.192px;">signed.</div>
<div class="t" style="left:516.91px;top:567.00px;font-size:13.2px;letter-spacing:0.189px;">To be the payment body, through which the BM payments are made, based on their specific payment</div>
<div class="t" style="left:516.91px;top:583.00px;font-size:13.2px;letter-spacing:0.080px;">mechanisms.</div>
<div class="t" style="left:500.90px;top:485.00px;font-size:13.2px;">•</div>
<div class="t" style="left:500.90px;top:518.00px;font-size:13.2px;">•</div>
<div class="t" style="left:500.90px;top:534.00px;font-size:13.2px;">•</div>
<div class="t" style="left:500.90px;top:567.00px;font-size:13.2px;">•</div>
<div class="t" style="left:1147.77px;top:634.00px;font-size:13.8px;transform:scaleX(1.1);transform-origin:0 0;"><b>28</b></div>
</div>
<div class="t" style="left:0;top:0;font-size:11px;font-weight:bold;transform-origin:0 0;transform:translate(45.3px,631.4px) rotate(-90deg);letter-spacing:0.47px;-webkit-text-stroke:0.25px #111;">Accelerating Net Zero</div>

</body></html>
